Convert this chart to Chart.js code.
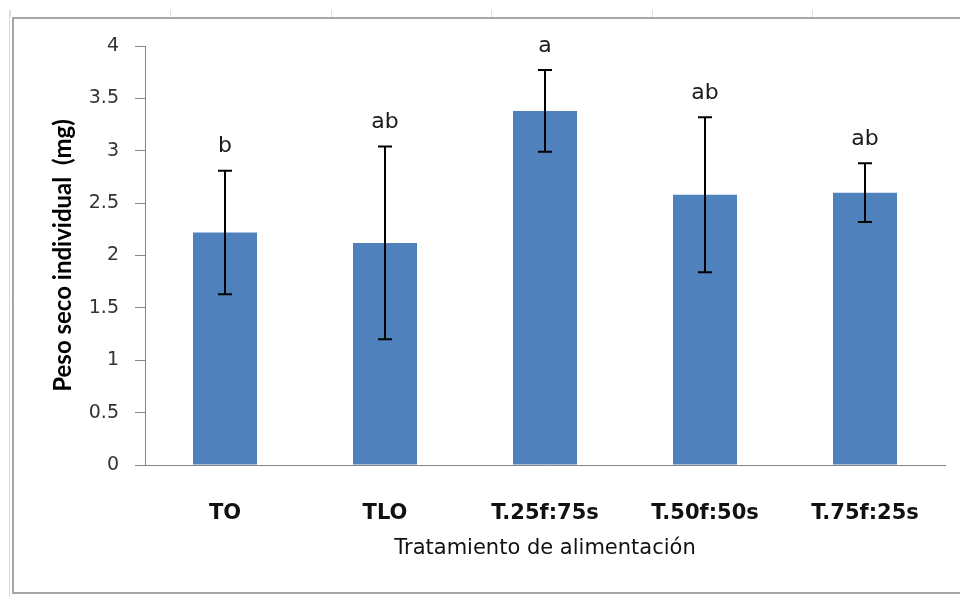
<!DOCTYPE html>
<html>
<head>
<meta charset="utf-8">
<script src="https://cdn.jsdelivr.net/npm/chart.js@4.4.1/dist/chart.umd.min.js"></script>
<style>
  html, body { margin: 0; padding: 0; background: #fff; }
  #wrap { width: 960px; height: 597px; }
</style>
</head>
<body>
<div id="wrap"><canvas id="chart" width="960" height="597"></canvas></div>
<script>
const categories = ["TO", "TLO", "T.25f:75s", "T.50f:50s", "T.75f:25s"];
const means = [2.22, 2.12, 3.38, 2.58, 2.60];
const errors = [0.59, 0.92, 0.39, 0.74, 0.28];
const letters = ["b", "ab", "a", "ab", "ab"];
const yTicks = ["0", "0.5", "1", "1.5", "2", "2.5", "3", "3.5", "4"];

const FONT = "'DejaVu Sans', sans-serif";
const AXIS_GREY = "#868686";

// sheet background: cell marks and the chart's frame
const frame = {
    id: "frame",
    beforeDraw(chart) {
        const ctx = chart.ctx;
        ctx.save();
        ctx.strokeStyle = "#dcdcdc";
        ctx.lineWidth = 1;
        for (let x = 9.5; x < 960; x += 160.5) {
            ctx.beginPath();
            ctx.moveTo(Math.round(x) + 0.5, 10);
            ctx.lineTo(Math.round(x) + 0.5, 17);
            ctx.stroke();
        }
        ctx.beginPath();
        ctx.moveTo(9.5, 10);
        ctx.lineTo(9.5, 597);
        ctx.stroke();
        ctx.strokeStyle = "#a6a6a6";
        ctx.lineWidth = 2;
        ctx.beginPath();
        ctx.moveTo(962, 18);
        ctx.lineTo(13, 18);
        ctx.lineTo(13, 593);
        ctx.lineTo(962, 593);
        ctx.stroke();
        ctx.restore();
    }
};

// error bars and significance letters
const errorBars = {
    id: "errorBars",
    afterDatasetsDraw(chart) {
        const ctx = chart.ctx;
        const y = chart.scales.y;
        const meta = chart.getDatasetMeta(0);
        ctx.save();
        ctx.strokeStyle = "#000";
        ctx.lineWidth = 2;
        meta.data.forEach((bar, i) => {
            const top = y.getPixelForValue(means[i] + errors[i]);
            const bottom = y.getPixelForValue(means[i] - errors[i]);
            const cx = Math.round(bar.x);
            ctx.beginPath();
            ctx.moveTo(cx, top);
            ctx.lineTo(cx, bottom);
            ctx.moveTo(cx - 7, top);
            ctx.lineTo(cx + 7, top);
            ctx.moveTo(cx - 7, bottom);
            ctx.lineTo(cx + 7, bottom);
            ctx.stroke();

            ctx.fillStyle = "#1a1a1a";
            ctx.font = "22px " + FONT;
            ctx.textAlign = "center";
            ctx.textBaseline = "middle";
            ctx.fillText(letters[i], cx, top - 24);
        });
        ctx.restore();
    }
};

new Chart(document.getElementById("chart"), {
    type: "bar",
    data: {
        labels: categories,
        datasets: [{
            data: means,
            backgroundColor: "#4F81BD",
            borderWidth: 0,
            barPercentage: 0.4,
            categoryPercentage: 1.0
        }]
    },
    options: {
        responsive: false,
        animation: false,
        layout: { padding: { left: 0, right: 15, top: 46, bottom: 0 } },
        plugins: {
            legend: { display: false },
            tooltip: { enabled: false }
        },
        scales: {
            x: {
                grid: { display: false },
                border: { display: true, color: AXIS_GREY, width: 1 },
                ticks: {
                    padding: 28,
                    color: "#111",
                    font: { family: FONT, size: 21, weight: "bold" }
                },
                title: {
                    display: true,
                    text: "Tratamiento de alimentación",
                    color: "#111",
                    font: { family: FONT, size: 21 },
                    padding: { top: 0, bottom: 36 }
                },
                afterFit(scale) { scale.height = 132; }
            },
            y: {
                min: 0,
                max: 4,
                grid: {
                    display: true,
                    drawOnChartArea: false,
                    drawTicks: true,
                    tickLength: 10,
                    color: AXIS_GREY
                },
                border: { display: true, color: AXIS_GREY, width: 1 },
                ticks: {
                    stepSize: 0.5,
                    padding: 16,
                    color: "#333",
                    font: { family: FONT, size: 19 },
                    callback: (v, i) => yTicks[i]
                },
                title: {
                    display: true,
                    text: "Peso seco individual  (mg)",
                    color: "#000",
                    font: { family: "Lato, sans-serif", size: 24, weight: "bold" },
                    padding: { top: 49, bottom: 0 }
                },
                afterFit(scale) { scale.width = 145; }
            }
        }
    },
    plugins: [frame, errorBars]
});
</script>
</body>
</html>
